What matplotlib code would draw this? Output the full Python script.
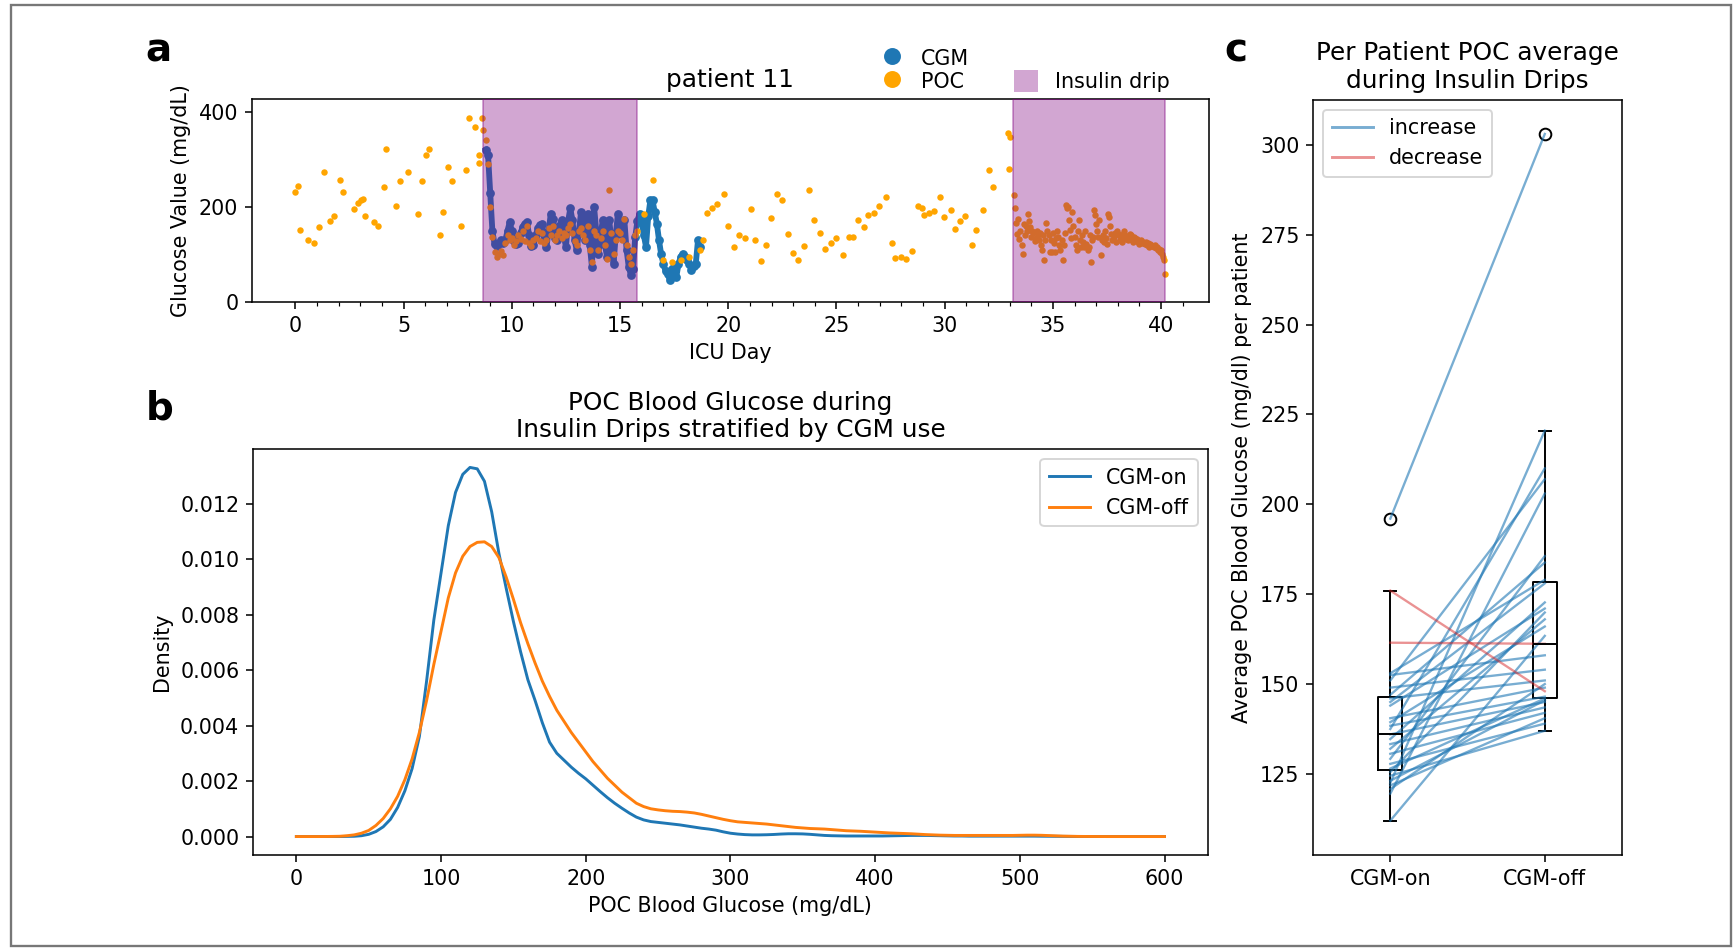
import numpy as np
import matplotlib
matplotlib.use('Agg')
import matplotlib.pyplot as plt
from matplotlib.lines import Line2D
from matplotlib.patches import Patch, Rectangle

plt.rcParams['font.size'] = 10.6

# panel a: patient 11 timeline
# POC checks before the first insulin drip (day, mg/dL)
poc_pre_days = [0.0, 0.13, 0.2, 0.6, 0.85, 1.1, 1.3, 1.6, 1.8, 2.05, 2.2, 2.7, 2.87, 3.03, 3.1, 3.2,
                3.62, 3.8, 4.08, 4.18, 4.64, 4.85, 5.2, 5.67, 5.84, 6.03, 6.15, 6.66, 6.82, 7.03, 7.23,
                7.64, 7.87, 8.0, 8.28, 8.5, 8.5, 8.62, 8.66]
poc_pre_vals = [232, 244, 152, 130, 124, 158, 274, 171, 182, 257, 232, 195, 209, 215, 217, 180,
                168, 161, 241, 322, 201, 255, 274, 186, 255, 309, 322, 140, 190, 285, 255,
                159, 277, 388, 368, 310, 293, 388, 362]

# POC checks between the two drips
poc_mid_days = [16.1, 16.5, 17.0, 17.4, 17.8, 18.2, 18.7, 18.84, 19.0, 19.25, 19.47, 19.8, 20.0,
                20.25, 20.5, 20.75, 21.05, 21.25, 21.5, 21.74, 21.96, 22.24, 22.49, 22.74, 22.99,
                23.24, 23.49, 23.73, 23.98, 24.23, 24.45, 24.73, 24.98, 25.28, 25.56, 25.76, 26.0,
                26.26, 26.47, 26.72, 26.97, 27.27, 27.55, 27.72, 27.97, 28.22, 28.5, 28.76, 28.96,
                29.05, 29.26, 29.5, 29.76, 29.99, 30.29, 30.46, 30.7, 30.95, 31.25, 31.45, 31.75,
                32.03, 32.25, 32.91, 32.95, 33.03]
poc_mid_vals = [185, 256, 88, 85, 88, 95, 109, 131, 188, 198, 207, 227, 159,
                116, 142, 135, 196, 131, 86, 121, 177, 227, 214, 144, 103,
                89, 117, 236, 172, 145, 112, 124, 135, 98, 137, 137, 172,
                158, 184, 188, 201, 220, 124, 93, 94, 91, 107, 203, 198,
                184, 188, 191, 222, 179, 194, 154, 170, 182, 119, 152, 194,
                278, 241, 356, 280, 348]

# POC during drip 1 (every 0.1 day from day 8.8)
poc_drip1_start, poc_drip1_step = 8.8, 0.1
poc_drip1_vals = [340, 290, 200, 137, 105, 95, 100, 108, 98, 125,
                  140, 130, 135, 120, 128, 140, 132, 150, 128, 160,
                  125, 118, 130, 135, 150, 128, 145, 125, 130, 155,
                  140, 160, 130, 140, 150, 135, 145, 140, 155, 165,
                  145, 128, 120, 150, 155, 140, 130, 160, 110, 85,
                  150, 140, 110, 135, 150, 120, 90, 235, 145, 100,
                  130, 150, 145, 130, 175, 120, 95, 80, 110, 140,
                  150]

# POC during drip 2 (every 0.05 day from day 33.2)
poc_drip2_start, poc_drip2_step = 33.2, 0.05
poc_drip2_vals = [225, 198, 167, 144, 175, 132, 150, 120, 101, 165, 140, 160, 150, 186, 170, 158, 137, 150, 145, 128,
                  135, 150, 140, 130, 145, 121, 110, 140, 88, 130, 166, 150, 140, 106, 130, 106, 145, 125, 106, 135,
                  150, 137, 120, 109, 130, 88, 120, 145, 204, 197, 200, 172, 151, 135, 190, 160, 137, 120, 109, 150,
                  172, 130, 116, 140, 127, 116, 150, 123, 110, 116, 140, 85, 130, 137, 193, 183, 165, 150, 137, 172,
                  99, 130, 140, 127, 150, 135, 123, 186, 179, 160, 144, 130, 137, 145, 127, 150, 144, 140, 130, 137,
                  127, 144, 150, 140, 132, 130, 135, 144, 140, 130, 127, 137, 135, 130, 132, 127, 123, 130, 125, 127,
                  125, 123, 127, 120, 125, 116, 123, 120, 118, 116, 120, 113, 116, 109, 112, 106, 110, 102, 95, 88,
                  60]

# CGM trace (every 0.1 day from day 8.8)
cgm_start, cgm_step = 8.8, 0.1
cgm_vals = [320, 310, 230, 150, 122, 118, 124, 130, 125, 130,
            150, 168, 150, 128, 122, 125, 145, 158, 165, 168,
            140, 118, 120, 140, 155, 162, 165, 130, 116, 150,
            186, 175, 135, 130, 160, 172, 140, 116, 170, 197,
            172, 130, 109, 150, 190, 160, 130, 186, 120, 74,
            200, 150, 102, 140, 172, 120, 95, 172, 130, 81,
            140, 186, 160, 144, 172, 110, 74, 57, 70, 137,
            170, 186, 172, 140, 116, 180, 214, 214, 190, 165,
            130, 100, 81, 65, 60, 46, 70, 74, 53, 80,
            95, 102, 95, 88, 80, 67, 75, 81, 130, 116]

drips = [(8.68, 15.8), (33.15, 40.18)]

# panel b: density of POC glucose during drips (x every 5 mg/dL, density in 1e-3)
kde_x = np.arange(0, 601, 5)
kde_on = [0, 0, 0, 0, 0, 0, 0, 0.005, 0.01, 0.03,
          0.08, 0.18, 0.35, 0.62, 1.05, 1.65, 2.45, 3.6, 5.6, 7.8,
          9.5, 11.2, 12.4, 13.05, 13.3, 13.25, 12.8, 11.7, 10.2, 8.95,
          7.75, 6.65, 5.65, 4.9, 4.1, 3.4, 3.0, 2.75, 2.5, 2.28,
          2.08, 1.85, 1.62, 1.4, 1.2, 1.02, 0.85, 0.7, 0.6, 0.54,
          0.51, 0.48, 0.45, 0.42, 0.38, 0.34, 0.3, 0.27, 0.23, 0.17,
          0.12, 0.09, 0.07, 0.06, 0.06, 0.065, 0.075, 0.09, 0.1, 0.1,
          0.095, 0.08, 0.06, 0.04, 0.03, 0.025, 0.02, 0.02, 0.02, 0.02,
          0.02, 0.02, 0.025, 0.03, 0.035, 0.04, 0.04, 0.04, 0.035, 0.03,
          0.025, 0.02, 0.02, 0.015, 0.015, 0.015, 0.015, 0.015, 0.015, 0.015,
          0.015, 0.015, 0.015, 0.012, 0.01, 0.008, 0.006, 0.004, 0.003, 0.002,
          0.001, 0.001, 0, 0, 0, 0, 0, 0, 0, 0,
          0]
kde_off = [0, 0, 0, 0, 0.002, 0.005, 0.01, 0.03, 0.06, 0.12,
           0.22, 0.4, 0.65, 1.0, 1.45, 2.05, 2.8, 3.75, 4.9, 6.2,
           7.4, 8.6, 9.5, 10.1, 10.45, 10.6, 10.62, 10.45, 10.05, 9.35,
           8.55, 7.7, 6.95, 6.25, 5.6, 5.05, 4.55, 4.15, 3.75, 3.4,
           3.05, 2.7, 2.4, 2.1, 1.85, 1.6, 1.4, 1.2, 1.08, 1.0,
           0.96, 0.93, 0.91, 0.9, 0.88, 0.85, 0.8, 0.74, 0.68, 0.62,
           0.57, 0.53, 0.51, 0.49, 0.47, 0.45, 0.42, 0.39, 0.36, 0.33,
           0.31, 0.29, 0.28, 0.27, 0.25, 0.23, 0.21, 0.2, 0.19, 0.175,
           0.16, 0.145, 0.13, 0.12, 0.11, 0.1, 0.085, 0.07, 0.06, 0.05,
           0.045, 0.04, 0.04, 0.04, 0.04, 0.04, 0.04, 0.04, 0.04, 0.04,
           0.045, 0.05, 0.05, 0.045, 0.035, 0.025, 0.015, 0.01, 0.005, 0.003,
           0.002, 0.001, 0, 0, 0, 0, 0, 0, 0, 0,
           0]

# panel c: per patient average POC (mg/dl), CGM-on vs CGM-off
avg_on = [112, 119.5, 120.8, 121.8, 122.5, 123.1, 124.5, 125.5, 126.5, 127.8, 129.2,
          130.6, 132, 133.3, 134.7, 136, 137.5, 138.4, 139.4, 140.5, 144, 145,
          146, 147, 149, 151, 152.5, 153, 161.5, 176, 196]
avg_off = [163.4, 203, 150, 140.5, 220.5, 145.5, 137, 169.9, 146, 139, 185.6,
           142, 168, 143.5, 172.7, 145, 210, 146.5, 166, 149, 171, 178,
           151, 183.8, 154, 207, 158, 179, 161.2, 148, 303]


fig = plt.figure(figsize=(1735 / 140, 948 / 140), dpi=140)
ax_a = fig.add_axes([0.1452, 0.6814, 0.5516, 0.2141])
ax_b = fig.add_axes([0.1458, 0.0981, 0.5504, 0.4283])
ax_c = fig.add_axes([0.7568, 0.0981, 0.1781, 0.7968])

# ---- panel a
cgm_days = cgm_start + cgm_step * np.arange(len(cgm_vals))
drip1_days = poc_drip1_start + poc_drip1_step * np.arange(len(poc_drip1_vals))
drip2_days = poc_drip2_start + poc_drip2_step * np.arange(len(poc_drip2_vals))
poc_days = np.concatenate([poc_pre_days, drip1_days, poc_mid_days, drip2_days])
poc_vals = np.concatenate([poc_pre_vals, poc_drip1_vals, poc_mid_vals, poc_drip2_vals])

ax_a.plot(cgm_days, cgm_vals, color='tab:blue', lw=3, marker='o', ms=3.5, zorder=2)
ax_a.scatter(poc_days, poc_vals, s=11, color='orange', zorder=3, linewidths=0)
for start, end in drips:
    ax_a.axvspan(start, end, color='purple', alpha=0.35, zorder=4)
ax_a.set_ylim(0, 427)
ax_a.set_yticks([0, 200, 400])
ax_a.set_xticks(np.arange(0, 41, 5))
ax_a.set_xticks(np.arange(0, 42, 1), minor=True)
ax_a.set_xlabel('ICU Day')
ax_a.set_ylabel('Glucose Value (mg/dL)')
ax_a.set_title('patient 11')

h_cgm = Line2D([], [], ls='', marker='o', color='tab:blue', markersize=7.7)
h_poc = Line2D([], [], ls='', marker='o', color='orange', markersize=7.7)
h_blank = Patch(facecolor='none', edgecolor='none')
h_drip = Patch(facecolor='purple', alpha=0.35, edgecolor='none')
ax_a.legend([h_cgm, h_poc, h_blank, h_drip], ['CGM', 'POC', '', 'Insulin drip'], ncol=2,
            frameon=False, loc='upper left', bbox_to_anchor=(880 / 1735, 1 - 47 / 948),
            bbox_transform=fig.transFigure, borderaxespad=0, borderpad=0,
            handlelength=1.17, handleheight=1.22, labelspacing=0.08, columnspacing=2.2)

# ---- panel b
ax_b.plot(kde_x, np.array(kde_on) / 1000, color='tab:blue', label='CGM-on')
ax_b.plot(kde_x, np.array(kde_off) / 1000, color='tab:orange', label='CGM-off')
ax_b.set_xlabel('POC Blood Glucose (mg/dL)')
ax_b.set_ylabel('Density')
ax_b.set_title('POC Blood Glucose during\nInsulin Drips stratified by CGM use')
ax_b.legend(loc='upper right')

# ---- panel c
ax_c.boxplot([avg_on, avg_off], positions=[1, 2], widths=0.155,
             medianprops=dict(color='black'),
             flierprops=dict(marker='o', markerfacecolor='none', markeredgecolor='black'))
for on, off in zip(avg_on, avg_off):
    if off > on:
        ax_c.plot([1, 2], [on, off], color='tab:blue', alpha=0.6, lw=1.2)
    else:
        ax_c.plot([1, 2], [on, off], color='tab:red', alpha=0.5, lw=1.2)
ax_c.set_xticks([1, 2])
ax_c.set_xticklabels(['CGM-on', 'CGM-off'])
ax_c.set_xlim(0.5, 2.5)
ax_c.set_ylabel('Average POC Blood Glucose (mg/dl) per patient')
ax_c.set_title('Per Patient POC average\nduring Insulin Drips')
ax_c.legend([Line2D([], [], color='tab:blue', alpha=0.6), Line2D([], [], color='tab:red', alpha=0.5)],
            ['increase', 'decrease'], loc='upper left')

# panel letters and outer frame
fig.text(158 / 1735, 1 - 50 / 948, 'a', fontsize=20, fontweight='bold', ha='center', va='center')
fig.text(160 / 1735, 1 - 409 / 948, 'b', fontsize=20, fontweight='bold', ha='center', va='center')
fig.text(1236 / 1735, 1 - 50 / 948, 'c', fontsize=20, fontweight='bold', ha='center', va='center')
fig.add_artist(Rectangle((11 / 1735, 2 / 948), 1720 / 1735, 941 / 948, transform=fig.transFigure,
                         fill=False, edgecolor='#777777', lw=1.2))

fig.savefig('out.png', dpi=140)
